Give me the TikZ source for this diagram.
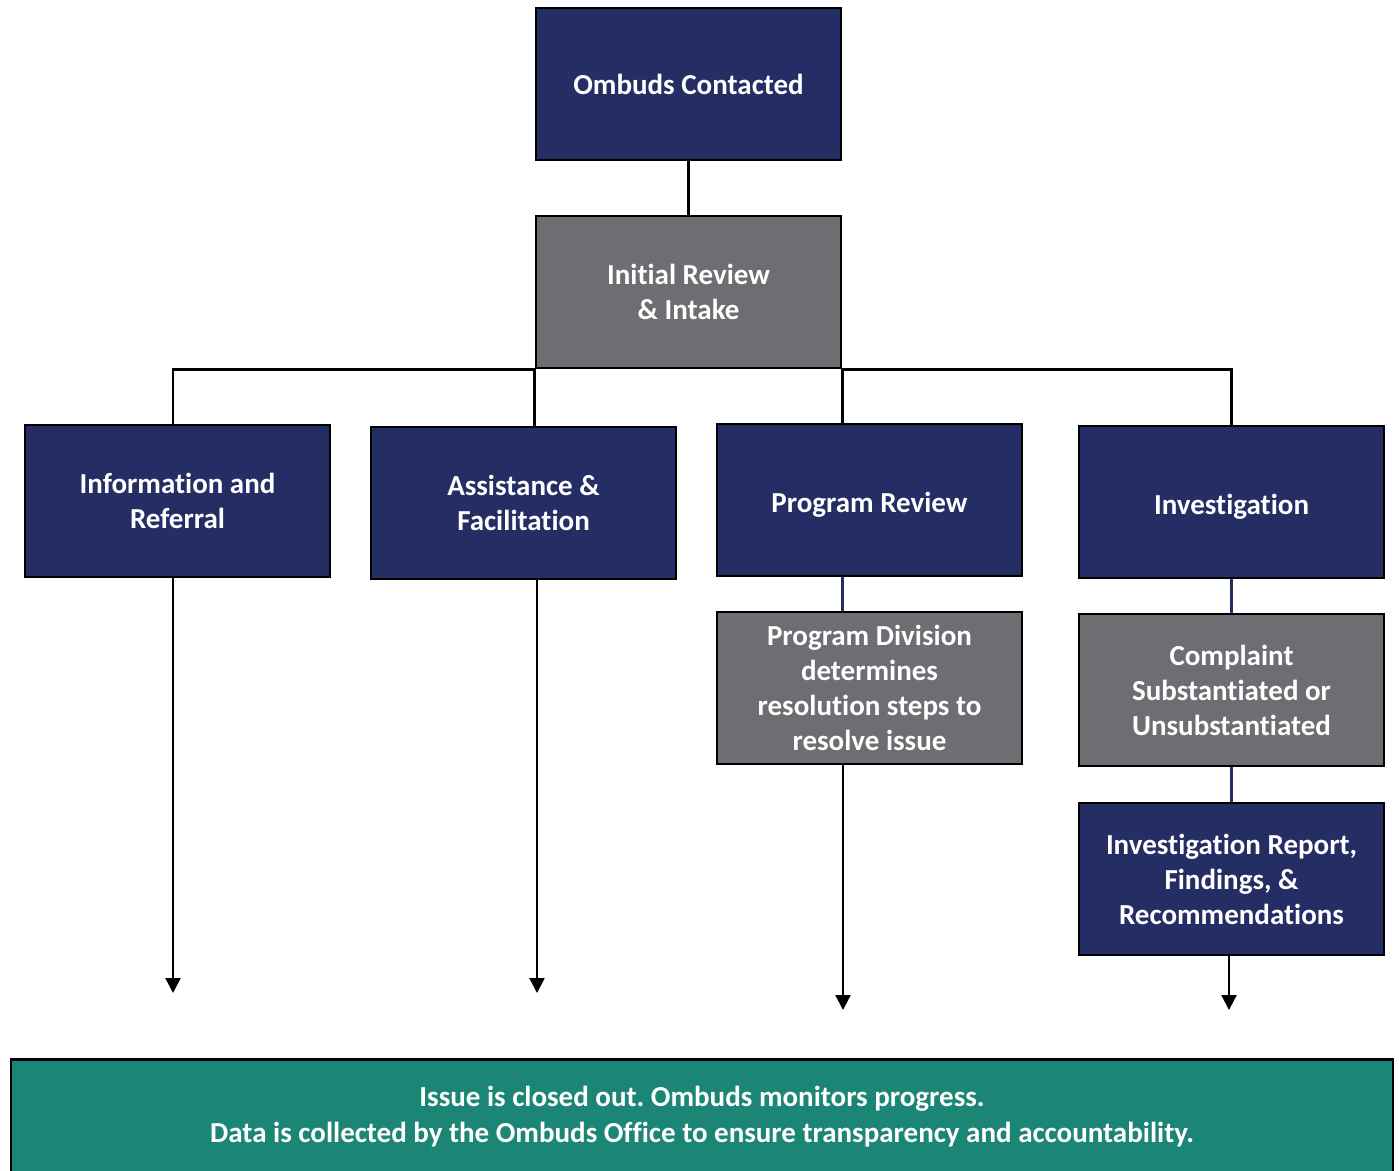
\documentclass[tikz,border=0pt]{standalone}
\usepackage{fontspec}
\setmainfont{Carlito}[Ligatures={NoCommon,NoRare,NoContextual,NoRequired}]
\frenchspacing
\usetikzlibrary{arrows.meta}
\definecolor{navy}{RGB}{37,46,100}
\definecolor{boxgray}{RGB}{109,110,114}
\definecolor{teal}{RGB}{28,134,118}
\newcommand{\nt}{t\kern0pt}
\tikzset{
  box/.style={draw=black, line width=2.8pt, minimum width=305pt, minimum height=152pt,
    align=center, text=white, font=\fontsize{29}{35}\selectfont\bfseries, inner sep=0pt},
  navybox/.style={box, fill=navy},
  graybox/.style={box, fill=boxgray},
  conn/.style={line width=2.3pt, draw=black},
  navyconn/.style={line width=2.3pt, draw=navy},
  arr/.style={conn, -{Triangle[width=15pt,length=15pt]}}
}
\begin{document}
\begin{tikzpicture}[x=1pt,y=-1pt]
\useasboundingbox (0,0) rectangle (1399,1170);
\fill[white] (0,0) rectangle (1399,1170);
% nodes
\node[navybox] (oc) at (688.5,84) {\raisebox{-1.5pt}{Ombuds Contacted}};
\node[graybox] (ir) at (688.5,292) {Ini\nt ial Review\\\& Intake};
\node[navybox] (inf) at (177.5,501) {Informa\nt ion and\\Referral};
\node[navybox] (asf) at (523.5,503) {Assistance \&\\Facilita\nt ion};
\node[navybox, text depth=0pt] (pr) at (869.5,500) {\raisebox{-4pt}{Program Review}};
\node[navybox, text depth=0pt] (inv) at (1231.5,502) {\raisebox{-4pt}{Inves\nt iga\nt ion}};
\node[graybox] (pd) at (869.5,688) {Program Division\\determines\\resolu\nt ion steps to\\resolve issue};
\node[graybox] (cs) at (1231.5,690) {Complaint\\Substan\nt iated or\\Unsubstan\nt iated};
\node[navybox] (rep) at (1231.5,879) {Inves\nt iga\nt ion Report,\\Findings, \&\\Recommenda\nt ions};
\node[draw=black, line width=2.8pt, fill=teal, minimum width=1382pt, minimum height=115pt,
  text=white, font=\fontsize{29}{36}\selectfont\bfseries, align=center, inner sep=0pt]
  (close) at (702,1117) {Issue is closed out. Ombuds monitors progress.\\Data is collected by the Ombuds Office to ensure transparency and accountability.};
% end points of arrows
\coordinate (e1) at (173,993);
\coordinate (e2) at (537,993);
\coordinate (e3) at (843,1010);
\coordinate (e4) at (1229,1010);
% connectors
\draw[conn] (oc.south) -- (ir.north);
\draw[conn] (ir.south west) -| (inf.north -| e1);
\draw[conn] (ir.south east) -| (inv.north);
\draw[conn] (ir.south west) -- (ir.south west |- asf.north);
\draw[conn] (ir.south east) -- (ir.south east |- pr.north);
\draw[navyconn] (pr.south -| ir.south east) -- (pd.north -| ir.south east);
\draw[navyconn] (inv.south) -- (cs.north);
\draw[navyconn] (cs.south) -- (rep.north);
\draw[arr] (inf.south -| e1) -- (e1);
\draw[arr] (asf.south -| e2) -- (e2);
\draw[arr] (pd.south -| e3) -- (e3);
\draw[arr] (rep.south -| e4) -- (e4);
\end{tikzpicture}
\end{document}
